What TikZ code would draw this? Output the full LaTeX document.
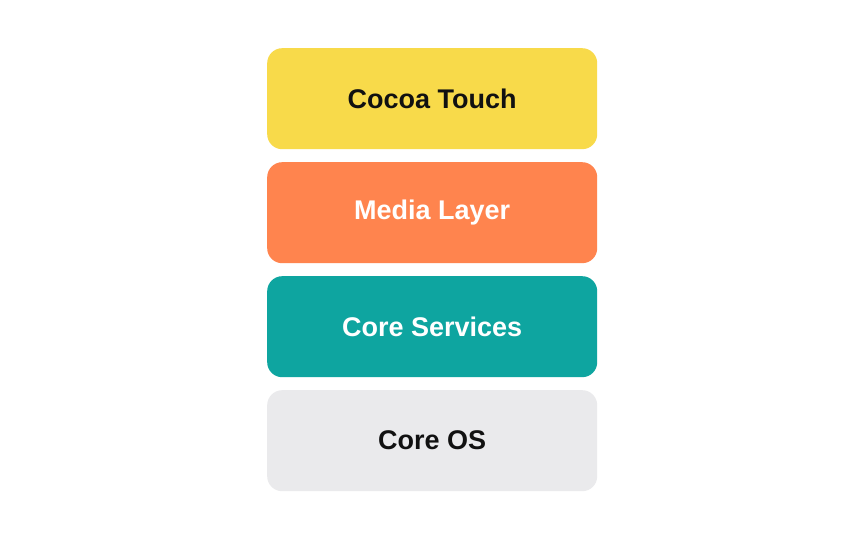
\documentclass[tikz,border=0pt]{standalone}
\usepackage{fontspec}
\setmainfont{Liberation Sans}
\definecolor{cyellow}{HTML}{F8DA4A}
\definecolor{corange}{HTML}{FF844E}
\definecolor{cteal}{HTML}{0EA5A0}
\definecolor{cgray}{HTML}{EAEAEC}
\definecolor{ctext}{HTML}{111111}
\begin{document}
\begin{tikzpicture}[x=1pt,y=-1pt,
  layer/.style={rounded corners=15pt, minimum width=330pt, minimum height=101pt, inner sep=0pt,
    font=\fontsize{27}{30}\selectfont\bfseries, anchor=north west}]
\useasboundingbox[fill=white] (0,0) rectangle (864,540);
\node[layer, fill=cyellow, text=ctext] (cocoa) at (267,48) {Cocoa Touch};
\node[layer, fill=corange, text=white] (media) at (267,162) {Media Layer};
\node[layer, fill=cteal, text=white] (services) at (267,276) {Core Services};
\node[layer, fill=cgray, text=ctext] (os) at (267,390) {Core OS};
\end{tikzpicture}
\end{document}
